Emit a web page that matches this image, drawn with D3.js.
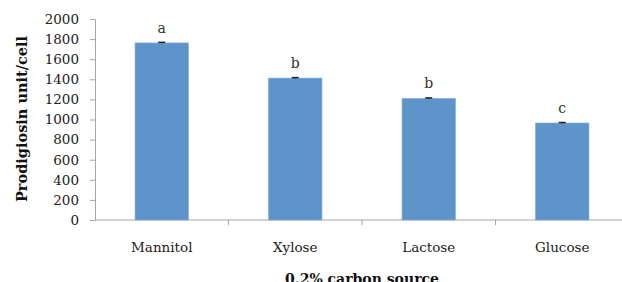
<!DOCTYPE html>
<html>
<head>
<meta charset="utf-8">
<script src="https://cdn.jsdelivr.net/npm/d3@7"></script>
<style>
  body { margin: 0; background: #fff; }
  svg { display: block; }
  text { font-family: "DejaVu Serif", serif; }
</style>
</head>
<body>
<svg id="drawspace" width="622" height="282"></svg>
<script>
let categories = ["Mannitol", "Xylose", "Lactose", "Glucose"];
let values = [1762, 1412, 1210, 965];
let errors = [6, 5, 5, 5];
let letters = ["a", "b", "b", "c"];
let yTicks = [0, 200, 400, 600, 800, 1000, 1200, 1400, 1600, 1800, 2000];

let ds = d3.select("#drawspace");
let x0 = 95, x1 = 629, y0 = 220, y1 = 19;

let xscale = d3.scaleBand().domain(categories).range([x0, x1]).paddingInner(0.6).paddingOuter(0.3);
let bandAll = d3.scaleBand().domain(categories).range([x0, x1]);
let yscale = d3.scaleLinear().domain([0, 2000]).range([y0, y1]);

// y axis
let yAxis = ds.append("g").attr("transform", "translate(" + x0 + ",0)")
  .call(d3.axisLeft(yscale).tickValues(yTicks).tickFormat(d3.format("d")).tickSize(5).tickPadding(11));
yAxis.selectAll("line,path").attr("stroke", "#a6a6a6");
yAxis.selectAll("text").attr("font-size", "13.5px").attr("fill", "#222")
  .style("font-family", "'DejaVu Serif', serif");

// x axis line + boundary ticks
ds.append("line").attr("x1", x0).attr("x2", 622).attr("y1", y0).attr("y2", y0)
  .attr("stroke", "#a6a6a6");
ds.append("g").selectAll("line").data(categories.slice(1))
  .enter().append("line")
  .attr("x1", d => bandAll(d)).attr("x2", d => bandAll(d))
  .attr("y1", y0).attr("y2", y0 + 5)
  .attr("stroke", "#a6a6a6");

// bars
ds.append("g").selectAll("rect").data(categories)
  .enter().append("rect")
  .attr("x", d => xscale(d))
  .attr("y", (d, i) => yscale(values[i]))
  .attr("width", xscale.bandwidth())
  .attr("height", (d, i) => y0 - yscale(values[i]))
  .attr("fill", "#5e94ca")
  .attr("stroke", "#7fabd8").attr("stroke-width", 0.6);

// error bars
let eb = ds.append("g");
categories.forEach((c, i) => {
  let cx = xscale(c) + xscale.bandwidth() / 2;
  eb.append("line").attr("x1", cx).attr("x2", cx)
    .attr("y1", yscale(values[i] + errors[i])).attr("y2", yscale(values[i] - errors[i]))
    .attr("stroke", "#222");
  eb.append("line").attr("x1", cx - 3.5).attr("x2", cx + 3.5)
    .attr("y1", yscale(values[i] + errors[i])).attr("y2", yscale(values[i] + errors[i]))
    .attr("stroke", "#222").attr("stroke-width", 1.5);
});

// significance letters
ds.append("g").selectAll("text").data(categories)
  .enter().append("text")
  .attr("x", d => xscale(d) + xscale.bandwidth() / 2)
  .attr("y", (d, i) => yscale(values[i]) - 10)
  .attr("text-anchor", "middle")
  .attr("font-size", "14px").attr("fill", "#333")
  .text((d, i) => letters[i]);

// category labels
ds.append("g").selectAll("text").data(categories)
  .enter().append("text")
  .attr("x", d => bandAll(d) + bandAll.bandwidth() / 2)
  .attr("y", 252)
  .attr("text-anchor", "middle")
  .attr("font-size", "13.5px").attr("fill", "#222")
  .text(d => d);

// axis titles
ds.append("text")
  .attr("transform", "translate(27,119) rotate(-90)")
  .attr("text-anchor", "middle")
  .attr("font-size", "14.5px").attr("font-weight", "bold").attr("fill", "#111")
  .text("Prodigiosin unit/cell");

ds.append("text")
  .attr("x", 362).attr("y", 284)
  .attr("text-anchor", "middle")
  .attr("font-size", "14px").attr("font-weight", "bold").attr("fill", "#111")
  .text("0.2% carbon source");
</script>
</body>
</html>
